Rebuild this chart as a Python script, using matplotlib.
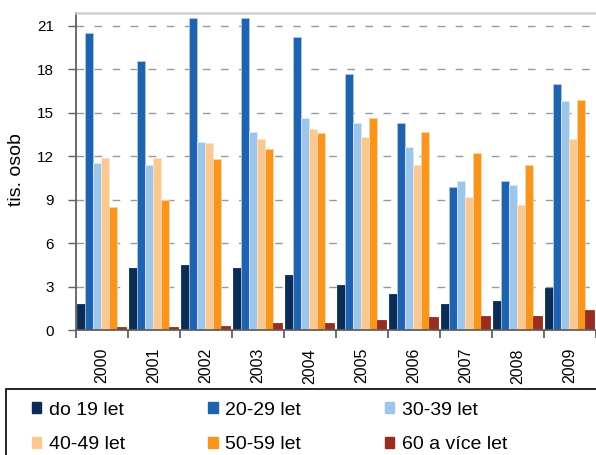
import numpy as np
import matplotlib.pyplot as plt
from matplotlib.patches import Rectangle, Patch

plt.rcParams['font.family'] = ['Liberation Sans', 'DejaVu Sans']

years = ["2000", "2001", "2002", "2003", "2004", "2005", "2006", "2007", "2008", "2009"]
groups = ["do 19 let", "20-29 let", "30-39 let", "40-49 let", "50-59 let", "60 a více let"]

do19 = [1.8, 4.3, 4.5, 4.3, 3.8, 3.1, 2.5, 1.8, 2.0, 2.9]
g20_29 = [20.5, 18.6, 21.5, 21.5, 20.2, 17.7, 14.3, 9.9, 10.3, 17.0]
g30_39 = [11.5, 11.4, 13.0, 13.7, 14.6, 14.3, 12.6, 10.3, 10.0, 15.8]
g40_49 = [11.9, 11.9, 12.9, 13.2, 13.9, 13.3, 11.4, 9.2, 8.6, 13.2]
g50_59 = [8.5, 9.0, 11.8, 12.5, 13.6, 14.6, 13.7, 12.2, 11.4, 15.9]
g60 = [0.2, 0.2, 0.3, 0.5, 0.5, 0.7, 0.9, 1.0, 1.0, 1.4]

series = [do19, g20_29, g30_39, g40_49, g50_59, g60]
colors = ["#0b2c57", "#1f62b0", "#9dc6ea", "#fcc892", "#f7951f", "#962f1f"]
edges = ["#0b2c57", "#a9c8ee", "#d6e8f8", "#ffe3c4", "#fcd3a0", "#962f1f"]

fig = plt.figure(figsize=(5.96, 4.55), dpi=100)
ax = fig.add_axes([76 / 596, 1 - 330 / 455, 520 / 596, 317.3 / 455])

x = np.arange(len(years))
w = 0.155
for k, (vals, c, e) in enumerate(zip(series, colors, edges)):
    ax.bar(x - 0.49 + k * w, vals, width=w + 0.012, align='edge', color=c,
           edgecolor=e, linewidth=0.6, label=groups[k], zorder=2)

ax.set_xlim(-0.5, 9.5)
ax.set_ylim(0, 21.9)
ax.set_yticks(np.arange(0, 22, 3))
ax.yaxis.grid(True, color="#999999", linewidth=1.0, dashes=(5.5, 7.5))
ax.set_axisbelow(True)

ax.set_xticks(x)
ax.set_xticklabels(years, rotation=90, fontsize=11.5)
ax.set_xticks(np.arange(-0.5, 10, 1), minor=True)
ax.tick_params(axis='x', which='major', length=0, pad=13)
ax.tick_params(axis='x', which='minor', length=6, width=1.3, color="#606060", direction='out')
ax.tick_params(axis='y', length=6, width=1.0, color="#606060", pad=10, labelsize=11)

for s in ["left", "bottom"]:
    ax.spines[s].set_color("#606060")
    ax.spines[s].set_linewidth(1.3)
ax.spines["right"].set_visible(False)
ax.spines["top"].set_color("#d0d0d0")
ax.spines["top"].set_linewidth(1.8)

ax.set_ylabel("tis. osob", fontsize=14)
ax.yaxis.set_label_coords(-0.098, 0.505)

# legend box (clipped by the figure edge like the original)
fig.patches.append(Rectangle((6 / 596, -0.05), 1.0, 0.05 + 66 / 455, transform=fig.transFigure,
                             facecolor="white", edgecolor="black", linewidth=1.2))
handles = [Patch(facecolor=c, edgecolor=c) for c in colors]
order = [0, 3, 1, 4, 2, 5]  # fill the legend row by row
fig.legend([handles[i] for i in order], [groups[i] for i in order], ncol=3,
           loc='upper left', bbox_to_anchor=(22 / 596, 1 - 392 / 455),
           frameon=False, fontsize=14, handlelength=0.47, handleheight=0.47,
           handletextpad=0.4, columnspacing=4.3, labelspacing=0.9, borderpad=0)

fig.savefig("out.png", dpi=100)
